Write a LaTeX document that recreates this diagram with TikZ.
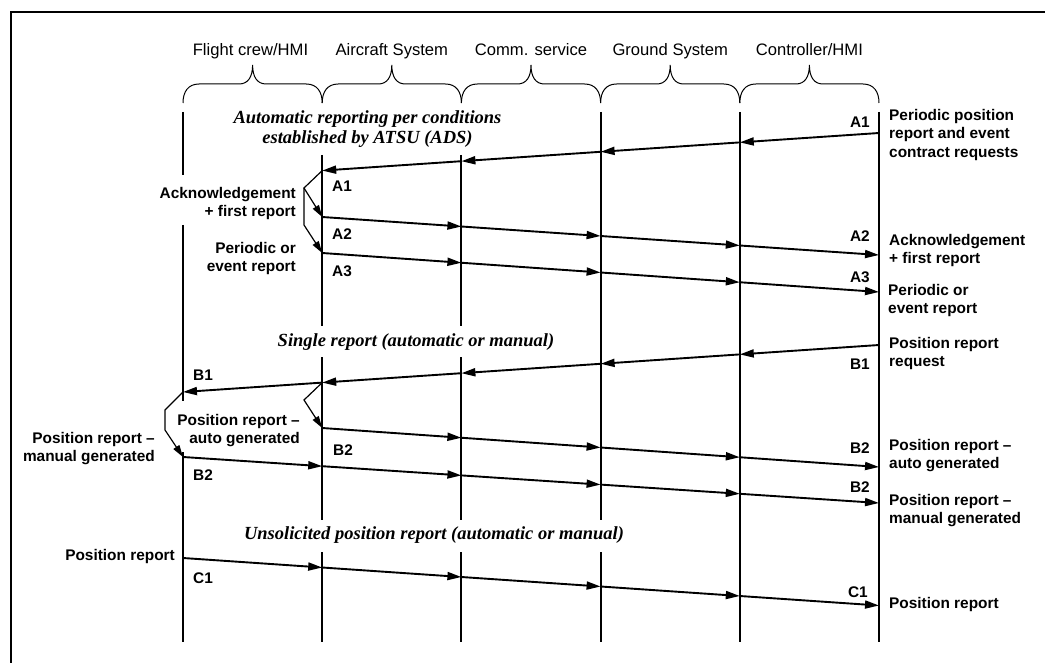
\documentclass[tikz,border=0pt]{standalone}
\usepackage{fontspec}
\setmainfont{Liberation Sans}
\newfontfamily\titlefont{Liberation Serif}
\usetikzlibrary{arrows.meta}

\tikzset{
  framing/.style={line width=2.2pt},
  lifeline/.style={line width=2pt},
  msg/.style={line width=1.9pt,-{Triangle[length=14pt,width=8pt]}},
  forkline/.style={line width=1.2pt,-{Triangle[length=12pt,width=7pt]}},
  bracestyle/.style={line width=1pt},
  header/.style={font=\fontsize{16.6}{20}\selectfont,anchor=base,inner sep=0pt},
  phase/.style={font=\titlefont\bfseries\itshape\fontsize{18.5}{20}\selectfont,align=center,inner sep=0pt},
  note/.style={font=\bfseries\fontsize{15.4}{18.4}\selectfont,inner sep=0pt},
  tag/.style={font=\bfseries\fontsize{15.4}{18.4}\selectfont,inner sep=0pt},
  hdrbrace/.pic={
    \draw[bracestyle] (0,103) .. controls (0,92) and (5,84) .. (16,84)
      -- (56,84) .. controls (65,84) and (69.6,77) .. (69.6,65)
      .. controls (69.6,77) and (74.2,84) .. (83.2,84)
      -- (123.2,84) .. controls (134.2,84) and (139.2,92) .. (139.2,103);
  }
}

\begin{document}
\begin{tikzpicture}[x=1pt,y=-1pt]
\useasboundingbox (0,0) rectangle (1045,663);
\draw[framing] (1046,12) -- (11,12) -- (11,664);

% participants and their braces
\node[header] (hfc) at (250.5,55.5) {Flight crew/HMI};
\node[header] (hac) at (391.8,55.5) {Aircraft System};
\node[header] (hcs) at (531,55.5) {Comm. service};
\node[header] (hgs) at (670.2,55.5) {Ground System};
\node[header] (hct) at (809.4,55.5) {Controller/HMI};
\foreach \i in {0,...,4} \pic at ({183+139.2*\i},0) {hdrbrace};

% lifelines, interrupted where labels sit on them
\draw[lifeline] (183,112) -- (183,175) (183,225) -- (183,401) (183,452) -- (183,642);
\draw[lifeline] (322.2,155) -- (322.2,326) (322.2,357) -- (322.2,520) (322.2,552) -- (322.2,642);
\draw[lifeline] (461.4,155) -- (461.4,326) (461.4,357) -- (461.4,520) (461.4,552) -- (461.4,642);
\draw[lifeline] (600.6,112) -- (600.6,520) (600.6,552) -- (600.6,642);
\draw[lifeline] (739.8,112) -- (739.8,642);
\draw[lifeline] (879,112) -- (879,642);

% message points on the lifelines
\foreach \i in {1,...,5}{
  \coordinate (a1-\i) at ({183+139.2*\i},{133+9.4*(5-\i)});
  \coordinate (a2-\i) at ({183+139.2*\i},{217+9.5*(\i-1)});
  \coordinate (a3-\i) at ({183+139.2*\i},{253+9.75*(\i-1)});
  \coordinate (ba-\i) at ({183+139.2*\i},{428+9.75*(\i-1)});
}
\foreach \i in {0,...,5}{
  \coordinate (b1-\i) at ({183+139.2*\i},{345+9.4*(5-\i)});
  \coordinate (bm-\i) at ({183+139.2*\i},{457+9.2*\i});
  \coordinate (c1-\i) at ({183+139.2*\i},{558+9.5*\i});
}

% phase titles
\node[phase,anchor=north] (pa) at (367.5,110.5) {Automatic reporting per conditions\\established by ATSU (ADS)};
\node[phase,anchor=base] (pb) at (416,346) {Single report (automatic or manual)};
\node[phase,anchor=base] (pc) at (434,539) {Unsolicited position report (automatic or manual)};

% messages, one arrow per hop
\foreach \i in {5,4,3,2}{\pgfmathtruncatemacro\j{\i-1}\draw[msg] (a1-\i) -- (a1-\j);}
\foreach \i in {1,2,3,4}{\pgfmathtruncatemacro\j{\i+1}
  \draw[msg] (a2-\i) -- (a2-\j);
  \draw[msg] (a3-\i) -- (a3-\j);
  \draw[msg] (ba-\i) -- (ba-\j);}
\foreach \i in {5,4,3,2,1}{\pgfmathtruncatemacro\j{\i-1}\draw[msg] (b1-\i) -- (b1-\j);}
\foreach \i in {0,1,2,3,4}{\pgfmathtruncatemacro\j{\i+1}
  \draw[msg] (bm-\i) -- (bm-\j);
  \draw[msg] (c1-\i) -- (c1-\j);}

% forks turning a request into replies
\coordinate (ackfork) at (304,188);
\coordinate (ackbend) at (304,225);
\draw[forkline] (a1-1) -- (ackfork) -- (a2-1);
\draw[forkline] (ackfork) -- (ackbend) -- (a3-1);
\coordinate (bfork) at (304,400);
\draw[forkline] (b1-1) -- (bfork) -- (ba-1);
\coordinate (mfork) at (165,410);
\coordinate (mbend) at (165,430);
\draw[forkline] (b1-0) -- (mfork) -- (mbend) -- (bm-0);

% descriptions at the controller side
\node[note,anchor=north west,align=left] (nA1) at (889,109) {Periodic position\\report and event\\contract requests};
\node[note,anchor=north west,align=left] (nA2) at (889,234) {Acknowledgement\\+ first report};
\node[note,anchor=north west,align=left] (nA3) at (888,284) {Periodic or\\event report};
\node[note,anchor=north west,align=left] (nB1) at (889,337) {Position report\\request};
\node[note,anchor=north west,align=left] (nBa) at (889,439) {Position report –\\auto generated};
\node[note,anchor=north west,align=left] (nBm) at (889,494) {Position report –\\manual generated};
\node[note,anchor=base west] (nC1) at (889,608) {Position report};

% descriptions at the aircraft side
\node[note,anchor=north east,align=right] (lA2) at (296,187) {Acknowledgement\\+ first report};
\node[note,anchor=north east,align=right] (lA3) at (296,242) {Periodic or\\event report};
\node[note,anchor=north east,align=right] (lBa) at (300,414) {Position report –\\auto generated};
\node[note,anchor=north east,align=right] (lBm) at (155,432) {Position report –\\manual generated};
\node[note,anchor=base east] (lC1) at (175,560) {Position report};

% message tags
\node[tag,anchor=base east] at (870,128) {A1};
\node[tag,anchor=base west] at (332,192) {A1};
\node[tag,anchor=base west] at (332,240) {A2};
\node[tag,anchor=base east] at (870,242) {A2};
\node[tag,anchor=base west] at (332,277) {A3};
\node[tag,anchor=base east] at (870,283) {A3};
\node[tag,anchor=base east] at (870,370) {B1};
\node[tag,anchor=base west] at (193,380) {B1};
\node[tag,anchor=base west] at (333,455) {B2};
\node[tag,anchor=base east] at (870,453) {B2};
\node[tag,anchor=base west] at (193,480) {B2};
\node[tag,anchor=base east] at (870,492) {B2};
\node[tag,anchor=base west] at (193,583) {C1};
\node[tag,anchor=base east] at (868,597) {C1};
\end{tikzpicture}
\end{document}
